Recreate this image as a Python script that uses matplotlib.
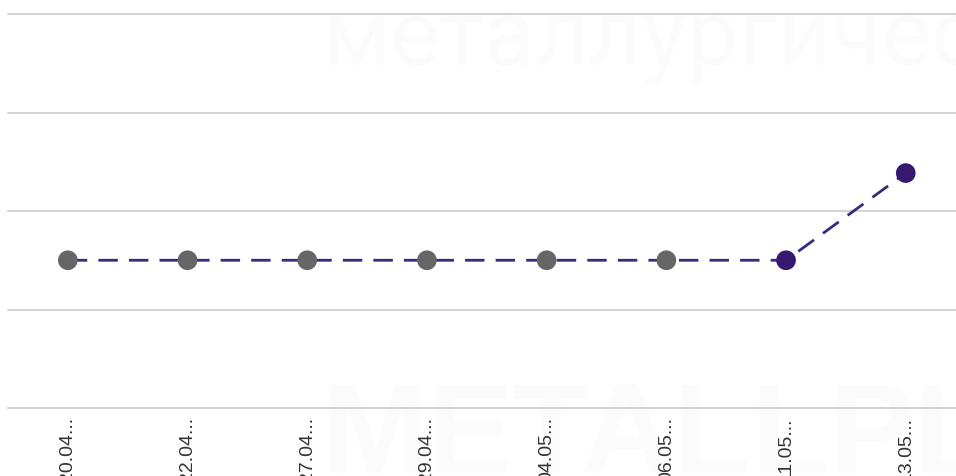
import matplotlib.pyplot as plt

# Price history (y-axis labels are hidden)
dates = ['20.04...', '22.04...', '27.04...', '29.04...',
         '04.05...', '06.05...', '11.05...', '13.05...']
prices = [30000, 30000, 30000, 30000, 30000, 30000, 30000, 47700]
grid_levels = [0, 20000, 40000, 60000, 80000]

line_color = '#3b2a7c'
point_colors = ['#666666'] * 6 + ['#36196f'] * 2

fig = plt.figure(figsize=(9.56, 4.77), dpi=100)
ax = fig.add_axes([8 / 956, 68 / 477, 957.6 / 956, 394 / 477])
ax.patch.set_alpha(0)

# faint watermarks behind the plot
fig.text(322 / 956, 1 - 65 / 477, 'металлургическ', fontsize=67,
         family='Roboto', color='#fbfbfb', va='baseline', zorder=-1)
fig.text(322 / 956, 1 - 380 / 477, 'METALLPL', fontsize=92,
         family='Liberation Sans', weight='bold', color='#fbfbfb',
         va='top', zorder=-1)

x = range(len(dates))
ax.plot(x, prices, color=line_color, lw=2, dashes=(7, 4), zorder=2)
ax.scatter(x, prices, s=200, c=point_colors, zorder=3, linewidths=0)

ax.set_xlim(-0.5, len(dates) - 0.5)
ax.set_ylim(grid_levels[0], grid_levels[-1])
ax.set_yticks(grid_levels)
ax.set_yticklabels([])
ax.set_xticks(list(x))
ax.set_xticklabels(dates, rotation=90, va='top', ha='center',
                   fontsize=14, family='Liberation Sans', color='#333333')
ax.tick_params(axis='both', length=0)
ax.tick_params(axis='x', pad=6)
ax.yaxis.grid(True, color='#cccccc', lw=1.2)
for gl in ax.get_ygridlines():
    gl.set_clip_on(False)
for s in ax.spines.values():
    s.set_visible(False)

fig.savefig('out.png', dpi=100)
